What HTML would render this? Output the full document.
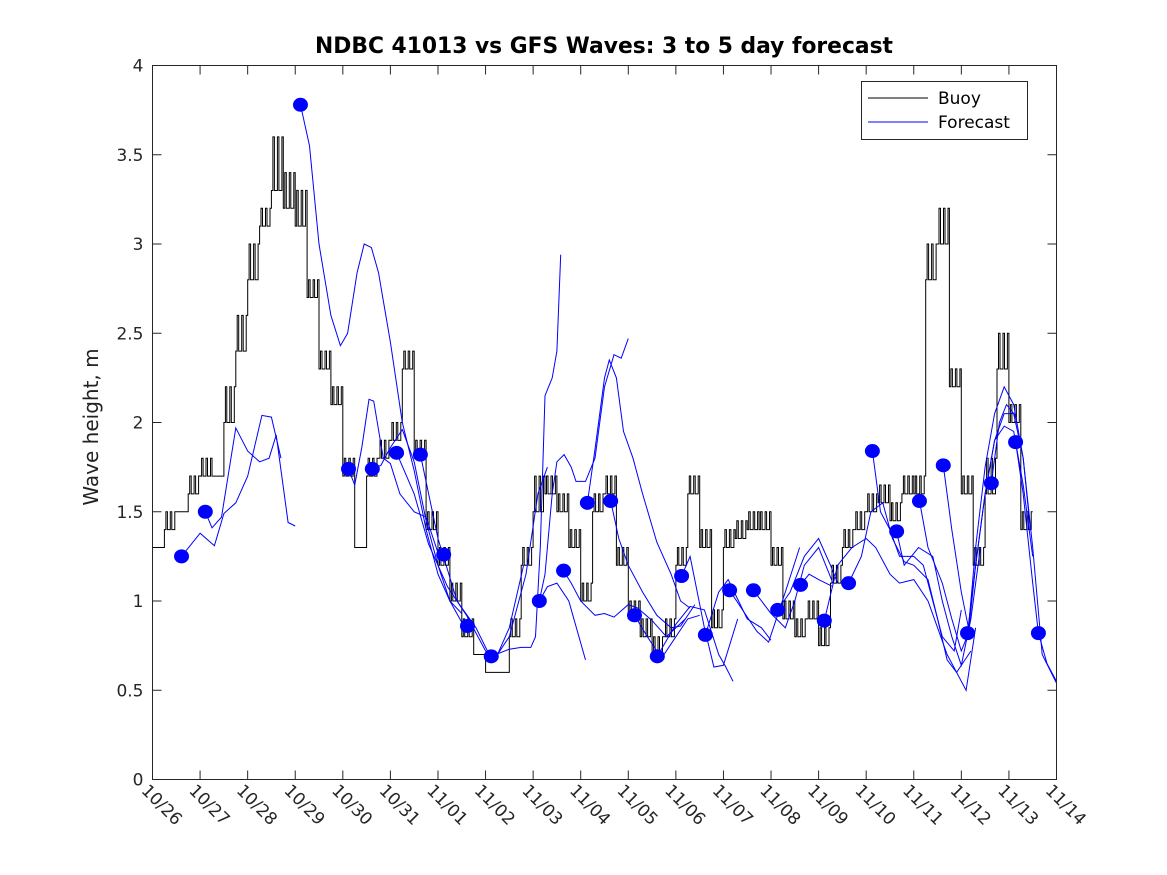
<!DOCTYPE html>
<html><head><meta charset="utf-8">
<style>
html,body{margin:0;padding:0;background:#fff;}
svg{display:block;font-family:"DejaVu Sans","Liberation Sans",sans-serif;}
</style></head>
<body>
<svg id="chart" width="1167" height="875" viewBox="0 0 1167 875" xmlns="http://www.w3.org/2000/svg">
<rect x="0" y="0" width="1167" height="875" fill="#fff"/>
<text x="604" y="53" text-anchor="middle" font-size="21.8" font-weight="bold" fill="#000">NDBC 41013 vs GFS Waves: 3 to 5 day forecast</text>
<text transform="translate(98,427) rotate(-90)" text-anchor="middle" font-size="20" fill="#222">Wave height, m</text>
<g id="plot"></g>
<rect x="152.5" y="65.5" width="904" height="714" fill="none" stroke="#262626" stroke-width="1"/>
<g id="axes"></g>
<g>
<rect x="861.5" y="81.5" width="166" height="58" fill="#fff" stroke="#262626"/>
<line x1="868" y1="98" x2="928" y2="98" stroke="#000"/>
<text x="938" y="104" font-size="17" fill="#000">Buoy</text>
<line x1="868" y1="122" x2="928" y2="122" stroke="#00f"/>
<text x="938" y="128" font-size="17" fill="#000">Forecast</text>
</g>
</svg>
<script>
const xTickLabels=["10/26","10/27","10/28","10/29","10/30","10/31","11/01","11/02","11/03","11/04","11/05","11/06","11/07","11/08","11/09","11/10","11/11","11/12","11/13","11/14"];
const yTicks=[0,0.5,1,1.5,2,2.5,3,3.5,4];
const buoyStart=0, buoyStep=0.25;
const buoyValues=[1.3,1.4,1.5,1.6,1.7,1.7,2.0,2.4,2.8,3.1,3.3,3.2,3.1,2.7,2.3,2.1,1.7,1.3,1.7,1.8,1.9,2.3,1.8,1.4,1.2,1.0,0.8,0.7,0.6,0.6,0.8,1.2,1.5,1.6,1.5,1.3,1.0,1.5,1.6,1.2,0.9,0.8,0.7,0.8,1.2,1.6,1.3,0.85,1.3,1.35,1.4,1.4,1.2,0.9,0.8,0.9,0.75,1.1,1.3,1.4,1.5,1.55,1.45,1.6,1.6,2.8,3.0,2.2,1.6,1.2,1.6,2.3,2.0,1.4];
const buoyJitter=[0,0.1,0,0.1,0.1,0,0.2,0.2,0.2,0.1,0.3,0.2,0.2,0.1,0.1,0.1,0.1,0,0.1,0.1,0.1,0.1,0.1,0.1,0.1,0.1,0.1,0,0,0,0.1,0.1,0.2,0.1,0.1,0.1,0.1,0.1,0.1,0.1,0.1,0.1,0.1,0.1,0.1,0.1,0.1,0.1,0.1,0.1,0.1,0.1,0.1,0.1,0.1,0.1,0.1,0.1,0.1,0.1,0.1,0.1,0.1,0.1,0.1,0.2,0.2,0.1,0.1,0.1,0.2,0.2,0.1,0.1];
const dotDays=[0.61,1.11,3.11,4.12,4.62,5.13,5.63,6.12,6.62,7.12,8.13,8.64,9.14,9.63,10.13,10.61,11.12,11.62,12.13,12.63,13.14,13.62,14.12,14.63,15.13,15.64,16.12,16.62,17.13,17.63,18.14,18.62];
const dotValues=[1.25,1.5,3.78,1.74,1.74,1.83,1.82,1.26,0.86,0.69,1.0,1.17,1.55,1.56,0.92,0.69,1.14,0.81,1.06,1.06,0.95,1.09,0.89,1.1,1.84,1.39,1.56,1.76,0.82,1.66,1.89,0.82];
const fc1=[[0.61,1.25],[1.0,1.38],[1.3,1.31],[1.5,1.49],[1.75,1.55],[2.0,1.7],[2.3,2.04],[2.5,2.03],[2.7,1.8]];
const fc2=[[1.11,1.5],[1.25,1.41],[1.45,1.47],[1.75,1.97],[2.0,1.84],[2.25,1.78],[2.45,1.8],[2.6,1.93],[2.85,1.44],[3.0,1.42]];
const fc3=[[3.11,3.78],[3.3,3.55],[3.5,3.0],[3.75,2.6],[3.95,2.43],[4.1,2.5],[4.3,2.84],[4.45,3.0],[4.6,2.98],[4.75,2.84],[5.0,2.45],[5.25,2.0],[5.5,1.73],[5.75,1.4],[6.0,1.15],[6.25,1.0],[6.5,0.88]];
const fc4=[[4.12,1.74],[4.25,1.65],[4.4,1.86],[4.55,2.13],[4.65,2.12],[4.85,1.8],[5.0,1.77],[5.2,1.6],[5.5,1.5],[5.75,1.47],[6.0,1.27]];
const fc5=[[4.62,1.74],[4.8,1.76],[5.0,1.86],[5.25,1.96],[5.5,1.78],[5.75,1.45],[6.0,1.2],[6.25,1.0],[6.5,0.93]];
const fc6=[[5.13,1.83],[5.5,1.6],[5.8,1.32],[6.2,1.08],[6.6,0.92],[7.0,0.72],[7.2,0.67],[7.5,0.85],[7.8,1.2]];
const fc7=[[5.63,1.82],[6.0,1.35],[6.4,1.0],[6.8,0.85],[7.15,0.66],[7.5,0.8],[7.85,1.15],[8.1,1.6],[8.3,1.75]];
const fc8=[[7.12,0.69],[7.5,0.73],[7.75,0.74],[7.95,0.74],[8.05,0.8],[8.15,1.3],[8.25,2.15],[8.4,2.25],[8.5,2.4],[8.58,2.94]];
const fc9=[[8.13,1.0],[8.25,1.15],[8.4,1.6],[8.5,1.78],[8.65,1.82],[8.8,1.75],[8.9,1.67],[9.1,1.67],[9.3,1.8],[9.5,2.2],[9.7,2.38],[9.85,2.36],[10.0,2.47]];
const fc10=[[8.13,1.0],[8.3,1.08],[8.5,1.1],[8.75,1.0],[9.1,0.67]];
const fc11=[[8.64,1.17],[8.8,1.1],[9.0,1.0],[9.3,0.92],[9.5,0.93],[9.7,0.91],[10.0,0.98],[10.2,0.96],[10.5,0.89],[10.8,0.8],[11.0,0.85],[11.2,0.9]];
const fc12=[[9.14,1.55],[9.3,1.85],[9.5,2.25],[9.6,2.35],[9.75,2.25],[9.9,1.95],[10.1,1.8],[10.3,1.6],[10.6,1.33],[10.9,1.15],[11.1,1.0],[11.3,0.96]];
const fc13=[[9.63,1.56],[9.8,1.35],[10.0,1.2],[10.3,1.05],[10.6,0.92],[10.9,0.85],[11.1,0.86],[11.4,0.98]];
const fc14=[[10.13,0.92],[10.4,0.8],[10.7,0.68],[11.0,0.8],[11.25,0.9],[11.5,0.92]];
const fc15=[[10.61,0.69],[11.0,0.87],[11.3,0.97],[11.6,0.95],[11.9,0.7],[12.05,0.63],[12.2,0.55]];
const fc16=[[11.12,1.14],[11.3,1.25],[11.6,0.85],[11.8,0.63],[12.0,0.64],[12.3,0.9]];
const fc17=[[11.62,0.81],[11.9,1.05],[12.1,1.12],[12.5,0.9],[12.8,0.85],[13.0,0.78]];
const fc18=[[12.13,1.06],[12.4,0.95],[12.7,0.83],[12.95,0.77],[13.3,1.05],[13.6,1.3]];
const fc19=[[12.63,1.06],[13.0,0.93],[13.3,0.85],[13.5,1.0],[13.7,1.2],[14.0,1.3],[14.3,1.1]];
const fc20=[[13.14,0.95],[13.4,1.05],[13.7,1.25],[14.0,1.35],[14.25,1.2],[14.4,1.1]];
const fc21=[[13.62,1.09],[13.8,1.15],[14.0,1.12],[14.3,1.08]];
const fc22=[[14.12,0.89],[14.4,1.2],[14.7,1.3],[15.0,1.35],[15.2,1.3],[15.5,1.15],[15.7,1.1],[16.0,1.12],[16.3,1.0],[16.5,0.85],[16.7,0.7],[16.9,0.6],[17.1,0.5],[17.3,0.85]];
const fc23=[[14.63,1.1],[14.9,1.25],[15.1,1.5],[15.35,1.55],[15.55,1.35],[15.8,1.22],[16.0,1.2],[16.3,1.12],[16.5,0.9],[16.7,0.67],[16.9,0.6],[17.2,0.72]];
const fc24=[[15.13,1.84],[15.3,1.5],[15.5,1.4],[15.7,1.25],[16.0,1.25],[16.2,1.2],[16.4,1.0],[16.6,0.8],[16.85,0.72],[17.0,0.95]];
const fc25=[[15.64,1.39],[15.8,1.2],[16.1,1.3],[16.4,1.25],[16.6,1.0],[16.8,0.8],[17.0,0.64],[17.2,0.9],[17.4,1.3]];
const fc26=[[16.12,1.56],[16.3,1.3],[16.6,1.1],[16.8,0.9],[17.0,0.72],[17.15,0.82],[17.3,1.2],[17.5,1.6],[17.7,1.9],[17.9,2.05],[18.1,2.05]];
const fc27=[[16.62,1.76],[16.8,1.4],[17.0,1.05],[17.15,0.85],[17.3,1.3],[17.5,1.75],[17.7,2.05],[17.9,2.2],[18.1,2.1],[18.3,1.8],[18.45,1.4]];
const fc28=[[17.13,0.82],[17.3,1.2],[17.5,1.6],[17.7,1.9],[17.9,1.98],[18.1,1.95],[18.3,1.65],[18.5,1.25]];
const fc29=[[17.63,1.66],[17.8,2.0],[17.95,2.1],[18.1,2.05],[18.3,1.8],[18.5,1.3],[18.7,0.7],[19.0,0.54]];
const fc30=[[18.14,1.89],[18.3,1.6],[18.5,1.1],[18.62,0.82],[18.8,0.65],[19.0,0.55]];
const forecasts=[fc1,fc2,fc3,fc4,fc5,fc6,fc7,fc8,fc9,fc10,fc11,fc12,fc13,fc14,fc15,fc16,fc17,fc18,fc19,fc20,fc21,fc22,fc23,fc24,fc25,fc26,fc27,fc28,fc29,fc30];

const X0=152.5,X1=1056.5,Y0=779.5,Y1=65.5,DAYS=19,YMAX=4;
function xs(d){return X0+(X1-X0)*d/DAYS;}
function ys(v){return Y0-(Y0-Y1)*v/YMAX;}
const NS="http://www.w3.org/2000/svg";
const plot=document.getElementById('plot'),axes=document.getElementById('axes');
function mk(tag,attrs,parent){const e=document.createElementNS(NS,tag);for(const k in attrs)e.setAttribute(k,attrs[k]);parent.appendChild(e);return e;}

let bp=[];
for(let i=0;i<buoyValues.length;i++){
  const d=buoyStart+i*buoyStep, v=buoyValues[i], j=buoyJitter[i];
  const xa=xs(d), xb=xs(d+buoyStep);
  const n=8;
  for(let k=0;k<n;k++){
    const x1=xa+(xb-xa)*k/n, x2=xa+(xb-xa)*(k+1)/n;
    const vv=(k%3===1)? v+j : v;
    bp.push([x1,ys(vv)],[x2,ys(vv)]);
  }
}
const buoy=mk('polyline',{points:bp.map(p=>p[0].toFixed(1)+','+p[1].toFixed(1)).join(' '),fill:'none',stroke:'#000','stroke-width':1},plot);



forecasts.forEach((f,i)=>{
  const pl=mk('polyline',{points:f.map(p=>xs(p[0]).toFixed(1)+','+ys(p[1]).toFixed(1)).join(' '),fill:'none',stroke:'#00f','stroke-width':1},plot);
  
  
});
dotDays.forEach((d,i)=>{
  const c=mk('ellipse',{cx:xs(d),cy:ys(dotValues[i]),rx:7.5,ry:7,fill:'#00f'},plot);
  
  
});

yTicks.forEach(v=>{
  const y=ys(v);
  mk('line',{x1:X0,x2:X0+9,y1:y,y2:y,stroke:'#262626'},axes);
  mk('line',{x1:X1,x2:X1-9,y1:y,y2:y,stroke:'#262626'},axes);
  const t=mk('text',{x:X0-9,y:y+6,'text-anchor':'end','font-size':17,fill:'#262626'},axes);
  t.textContent=String(v);
  
  
});
xTickLabels.forEach((lab,i)=>{
  const x=xs(i);
  mk('line',{x1:x,x2:x,y1:Y0,y2:Y0-9,stroke:'#262626'},axes);
  mk('line',{x1:x,x2:x,y1:Y1,y2:Y1+9,stroke:'#262626'},axes);
  const t=mk('text',{transform:'translate('+(x-12)+','+(Y0+12)+') rotate(45)','font-size':17,fill:'#262626'},axes);
  t.textContent=lab;
  
  
});
</script>
</body></html>
